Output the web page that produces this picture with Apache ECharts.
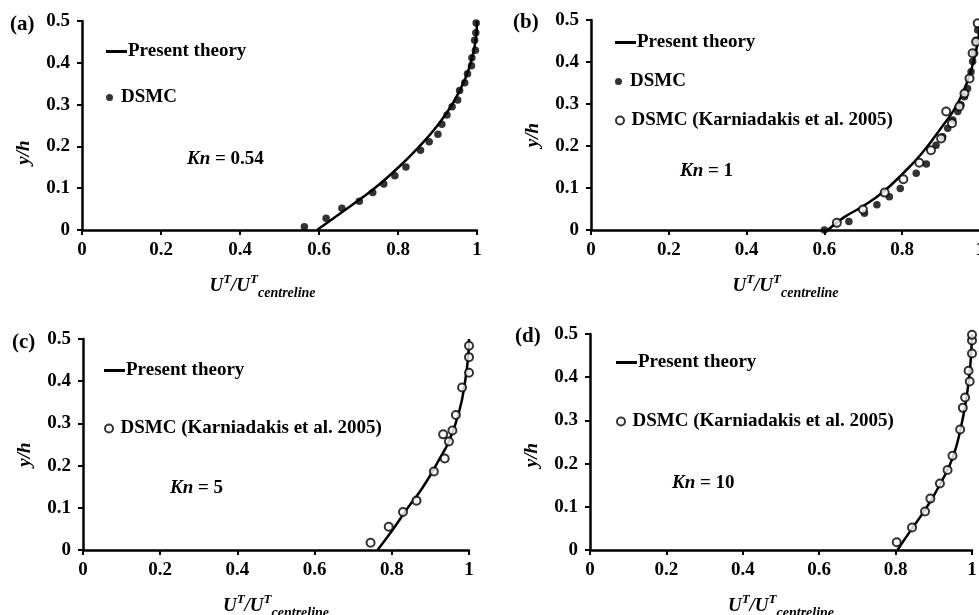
<!DOCTYPE html>
<html>
<head>
<meta charset="utf-8">
<script src="https://cdn.jsdelivr.net/npm/echarts@6/dist/echarts.min.js"></script>
<style>html,body{margin:0;padding:0;background:#fff}#c{width:979px;height:615px}</style>
</head>
<body>
<div id="c"></div>
<script>
// ---------- data ----------
const panelLabels = ['(a)', '(b)', '(c)', '(d)'];
const knLabels = ['0.54', '1', '5', '10'];
const legendNames = ['Present theory', 'DSMC', 'DSMC (Karniadakis et al. 2005)'];

const theoryA = [[0.595,0],[0.65,0.037],[0.70,0.071],[0.75,0.107],[0.80,0.149],[0.85,0.196],[0.90,0.250],[0.94,0.305],[0.97,0.362],[0.988,0.413],[0.997,0.458],[1.0,0.5]];
const dsmcA = [[0.563,0.008],[0.618,0.028],[0.658,0.052],[0.702,0.069],[0.736,0.090],[0.764,0.110],[0.792,0.130],[0.820,0.151],[0.857,0.191],[0.879,0.211],[0.901,0.229],[0.911,0.253],[0.924,0.275],[0.937,0.295],[0.951,0.311],[0.956,0.334],[0.969,0.352],[0.976,0.374],[0.986,0.393],[0.987,0.412],[0.996,0.430],[0.994,0.454],[0.997,0.472],[0.998,0.495]];

const theoryB = [[0.609,0],[0.65,0.030],[0.70,0.057],[0.75,0.090],[0.80,0.133],[0.85,0.182],[0.90,0.243],[0.94,0.297],[0.97,0.360],[0.988,0.420],[0.997,0.465],[1.0,0.5]];
const dsmcB = [[0.600,0.000],[0.663,0.020],[0.703,0.040],[0.735,0.060],[0.767,0.079],[0.795,0.099],[0.836,0.135],[0.862,0.157],[0.887,0.202],[0.904,0.222],[0.917,0.242],[0.930,0.262],[0.943,0.282],[0.951,0.298],[0.960,0.317],[0.968,0.337],[0.977,0.377],[0.981,0.401],[0.986,0.421],[0.990,0.452],[0.994,0.476]];
const karnB = [[0.632,0.017],[0.699,0.049],[0.755,0.089],[0.803,0.121],[0.844,0.160],[0.874,0.190],[0.900,0.218],[0.913,0.282],[0.928,0.254],[0.947,0.294],[0.960,0.325],[0.973,0.361],[0.981,0.421],[0.990,0.448],[0.994,0.492]];

const theoryC = [[0.763,0],[0.80,0.045],[0.84,0.098],[0.88,0.148],[0.92,0.210],[0.95,0.262],[0.975,0.330],[0.99,0.400],[0.998,0.460],[1.0,0.5]];
const karnC = [[0.745,0.017],[0.792,0.055],[0.829,0.090],[0.864,0.117],[0.909,0.186],[0.937,0.217],[0.933,0.274],[0.948,0.257],[0.957,0.283],[0.966,0.320],[0.982,0.385],[1.0,0.420],[1.0,0.457],[1.0,0.484]];

const theoryD = [[0.805,0],[0.84,0.046],[0.88,0.097],[0.92,0.158],[0.95,0.215],[0.97,0.280],[0.985,0.350],[0.995,0.420],[1.0,0.5]];
const karnD = [[0.803,0.018],[0.843,0.052],[0.877,0.089],[0.891,0.119],[0.916,0.154],[0.936,0.185],[0.949,0.218],[0.969,0.279],[0.976,0.329],[0.982,0.353],[0.994,0.390],[0.991,0.415],[1.0,0.455],[1.0,0.485],[1.0,0.498]];

// ---------- layout ----------
const FONT = '"Liberation Serif", "Times New Roman", serif';
const grids = [
  {left: 82, right: 502, top: 21, bottom: 385, outerBoundsMode: 'none', containLabel: false},
  {left: 591, right: -1, top: 20, bottom: 385, outerBoundsMode: 'none', containLabel: false},
  {left: 83, right: 510, top: 339, bottom: 65, outerBoundsMode: 'none', containLabel: false},
  {left: 590, right: 7, top: 334, bottom: 65, outerBoundsMode: 'none', containLabel: false}
];
const yNamePad = [54, 20, 20, 26];
const xNamePad = [[0,34,0,0],[0,0,0,0],[0,0,0,0],[0,0,0,0]];

const xAxes = grids.map((g, i) => ({
  type: 'value', gridIndex: i, min: 0, max: 1, interval: 0.2,
  axisLine: {show: true, onZero: false, lineStyle: {color: '#000', width: 2.5}},
  axisTick: {show: true, inside: false, length: 5, lineStyle: {color: '#000', width: 2}},
  splitLine: {show: false},
  axisLabel: {color: '#000', fontFamily: FONT, fontWeight: 'bold', fontSize: 19, margin: 11, hideOverlap: false},
  name: '{i|U}{sup|T}{i|/U}{sup|T}{sub|centreline}',
  nameLocation: 'middle', nameGap: 42,
  nameTextStyle: {
    color: '#000', fontFamily: FONT, fontWeight: 'bold', fontStyle: 'italic', fontSize: 19,
    padding: xNamePad[i],
    rich: {
      i: {fontFamily: FONT, fontWeight: 'bold', fontStyle: 'italic', fontSize: 19, color: '#000'},
      sup: {fontFamily: FONT, fontWeight: 'bold', fontStyle: 'italic', fontSize: 13, color: '#000', padding: [0,0,12,0]},
      sub: {fontFamily: FONT, fontWeight: 'bold', fontStyle: 'italic', fontSize: 14, color: '#000', padding: [14,0,0,0]}
    }
  }
}));
const yAxes = grids.map((g, i) => ({
  type: 'value', gridIndex: i, min: 0, max: 0.5, interval: 0.1,
  axisLine: {show: true, onZero: false, lineStyle: {color: '#000', width: 2.5}},
  axisTick: {show: true, inside: false, length: 5, lineStyle: {color: '#000', width: 2}},
  splitLine: {show: false},
  axisLabel: {color: '#000', fontFamily: FONT, fontWeight: 'bold', fontSize: 19, margin: 12},
  name: 'y/h', nameLocation: 'middle', nameGap: 48, nameRotate: 90,
  nameTextStyle: {color: '#000', fontFamily: FONT, fontWeight: 'bold', fontStyle: 'italic', fontSize: 19,
    padding: [0, yNamePad[i], 0, 0]}
}));

function lineSeries(data, i) {
  return {type: 'line', name: legendNames[0], xAxisIndex: i, yAxisIndex: i, data: data,
    smooth: true, symbol: 'none', showSymbol: false,
    lineStyle: {color: '#000', width: 2.5}, itemStyle: {color: '#000'}, z: 2};
}
function dotSeries(data, i) {
  return {type: 'scatter', name: legendNames[1], xAxisIndex: i, yAxisIndex: i, data: data,
    symbol: 'circle', symbolSize: 7.5, itemStyle: {color: '#000'}, z: 3};
}
function ringSeries(data, i) {
  return {type: 'scatter', name: legendNames[2], xAxisIndex: i, yAxisIndex: i, data: data,
    symbol: 'circle', symbolSize: 8, itemStyle: {color: '#fff', borderColor: '#000', borderWidth: 2}, z: 4};
}

const series = [
  lineSeries(theoryA, 0), dotSeries(dsmcA, 0),
  lineSeries(theoryB, 1), dotSeries(dsmcB, 1), ringSeries(karnB, 1),
  lineSeries(theoryC, 2), ringSeries(karnC, 2),
  lineSeries(theoryD, 3), ringSeries(karnD, 3)
];

// legend entries: [name index, left, centerY]
const legendItems = [
  [0, 106, 50], [1, 106, 96],
  [0, 615, 41], [1, 615, 80], [2, 615, 119],
  [0, 104, 369], [2, 104, 427],
  [0, 616, 361], [2, 616, 420]
];
const legends = legendItems.map(([n, l, cy]) => ({
  left: l, top: cy - 8, padding: 0, orient: 'vertical', selectedMode: false,
  itemWidth: 21, itemHeight: n === 0 ? 3 : (n === 1 ? 7 : 8), itemGap: 0,
  data: [n === 0 ? {name: legendNames[0], icon: 'rect', itemStyle: {color: '#000'}} : legendNames[n]],
  textStyle: {color: '#000', fontFamily: FONT, fontWeight: 'bold', fontSize: 19, padding: [0, 0, 0, -4]}
}));

const panelLabelPos = [[10, 14], [513, 12], [12, 332], [515, 326]];
const knPos = [[187, 150], [680, 162], [170, 479], [672, 474]];
const graphics = [];
panelLabels.forEach((t, i) => graphics.push({type: 'text', left: panelLabelPos[i][0], top: panelLabelPos[i][1],
  style: {text: t, fill: '#000', font: 'bold 21px ' + FONT}}));
knLabels.forEach((t, i) => graphics.push({type: 'text', left: knPos[i][0], top: knPos[i][1],
  style: {text: '{i|Kn} = ' + t, fill: '#000', font: 'bold 19px ' + FONT,
    rich: {i: {fontStyle: 'italic', fontWeight: 'bold', fontSize: 19, fontFamily: FONT, fill: '#000'}}}}));

const chart = echarts.init(document.getElementById('c'), null, {renderer: 'canvas'});
chart.setOption({
  animation: false,
  backgroundColor: '#fff',
  grid: grids,
  xAxis: xAxes,
  yAxis: yAxes,
  legend: legends,
  graphic: graphics,
  series: series
});
</script>
</body>
</html>
